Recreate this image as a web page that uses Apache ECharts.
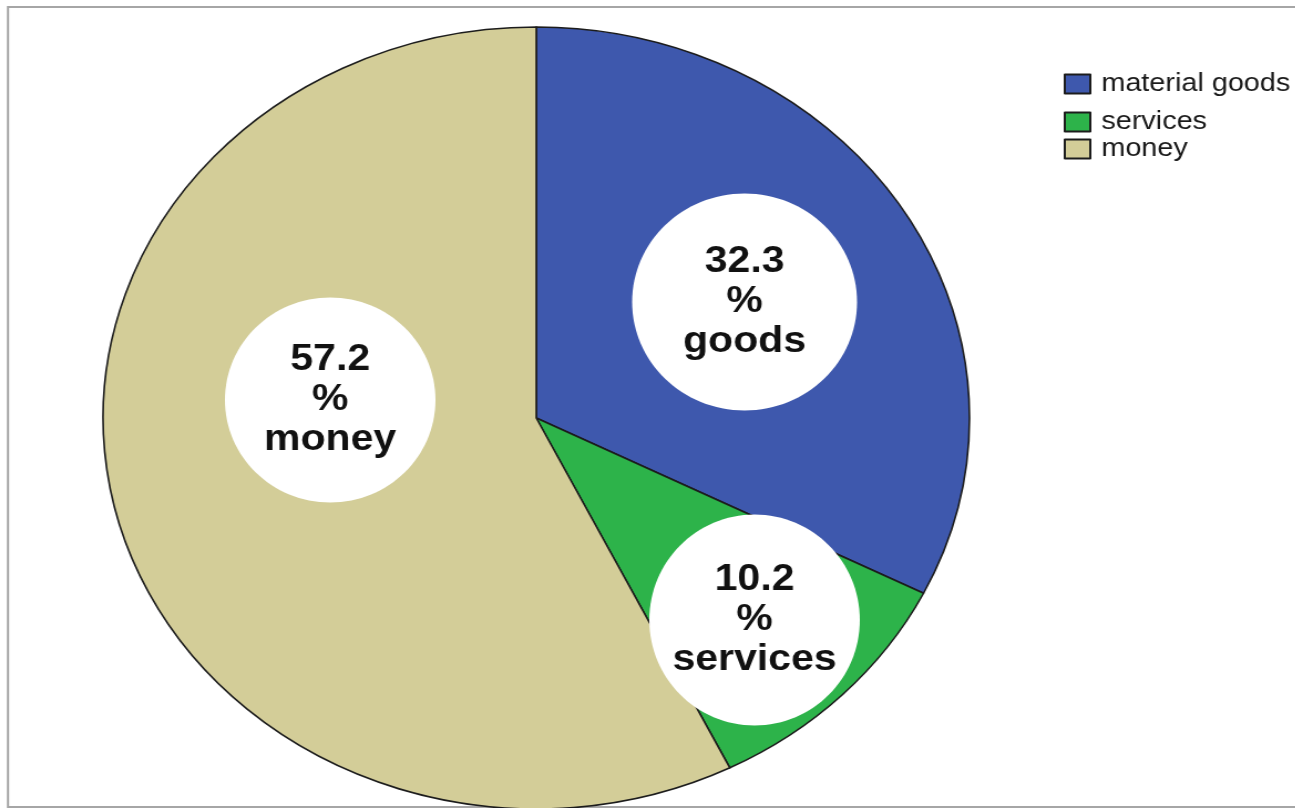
<!DOCTYPE html>
<html>
<head>
<meta charset="utf-8">
<script src="https://cdn.jsdelivr.net/npm/echarts@6/dist/echarts.min.js"></script>
<style>
  html, body { margin: 0; padding: 0; background: #fff; overflow: hidden; }
  #wrap { width: 1295px; height: 808px; overflow: hidden; position: relative; }
  /* the chart is drawn on a narrower canvas and stretched sideways into an oval */
  #chart { position: absolute; left: 0; top: 0; width: 1169px; height: 808px;
           transform: scaleX(1.108); transform-origin: 0 0; }
</style>
</head>
<body>
<div id="wrap"><div id="chart"></div></div>
<script>
// Shares of the reward type (percent)
const categories = ['material goods', 'services', 'money'];
const shortNames = ['goods', 'services', 'money'];
const values = [32.3, 10.2, 57.2];

// Look of each slice and its white label disc
const colors = ['#3E58AD', '#2DB34A', '#D3CD98'];
const labelSpots = [
  { x: 672, y: 302, rx: 101.5, ry: 108.5 },
  { x: 681, y: 620, rx: 95, ry: 105.5 },
  { x: 298, y: 400, rx: 95, ry: 102.5 }
];
const legendTops = [66, 104, 131];

const FONT = 'Liberation Sans, Arial, Helvetica, sans-serif';
const center = [484, 418];
const radius = 391;

const sliceData = categories.map((name, i) => ({
  name: name,
  value: values[i],
  itemStyle: { color: colors[i] }
}));

const labelData = categories.map((name, i) => ({ name: name, value: values[i] }));

const chart = echarts.init(document.getElementById('chart'), null, { renderer: 'canvas' });
chart.setOption({
  animation: false,
  backgroundColor: '#fff',
  graphic: [
    {
      type: 'rect',
      z: -10,
      shape: { x: 7.2, y: 7, width: 1300, height: 800 },
      style: { fill: 'none', stroke: '#a6a6a6', lineWidth: 2 }
    }
  ].concat(labelSpots.map(s => ({
    type: 'ellipse',
    z: 2,
    silent: true,
    shape: { cx: s.x, cy: s.y, rx: s.rx, ry: s.ry },
    style: { fill: '#ffffff' }
  }))),
  legend: categories.map((name, i) => ({
    data: [name],
    orient: 'vertical',
    left: 955,
    top: legendTops[i],
    icon: 'rect',
    itemWidth: 23,
    itemHeight: 19,
    selectedMode: false,
    textStyle: {
      fontFamily: FONT,
      fontSize: 26,
      color: '#1a1a1a',
      padding: [0, 0, 0, 5]
    }
  })),
  series: [
    {
      // the slices
      type: 'pie',
      z: 1,
      center: center,
      radius: radius,
      startAngle: 90,
      clockwise: true,
      silent: true,
      itemStyle: { borderColor: '#1c1c1c', borderWidth: 1.6 },
      label: { show: false },
      labelLine: { show: false },
      data: sliceData
    },
    {
      // value labels, drawn above the white discs
      type: 'pie',
      z: 3,
      center: center,
      radius: radius,
      startAngle: 90,
      clockwise: true,
      silent: true,
      legendHoverLink: false,
      itemStyle: { color: 'transparent', borderWidth: 0 },
      label: {
        show: true,
        position: 'inside',
        formatter: p => p.value.toFixed(1) + '\n%\n' + shortNames[p.dataIndex],
        fontFamily: FONT,
        fontSize: 37,
        fontWeight: 'bold',
        lineHeight: 40,
        color: '#111',
        align: 'center'
      },
      labelLine: { show: false },
      labelLayout: p => ({
        x: labelSpots[p.dataIndex].x,
        y: labelSpots[p.dataIndex].y,
        align: 'center',
        verticalAlign: 'middle'
      }),
      data: labelData
    }
  ]
});
</script>
</body>
</html>
